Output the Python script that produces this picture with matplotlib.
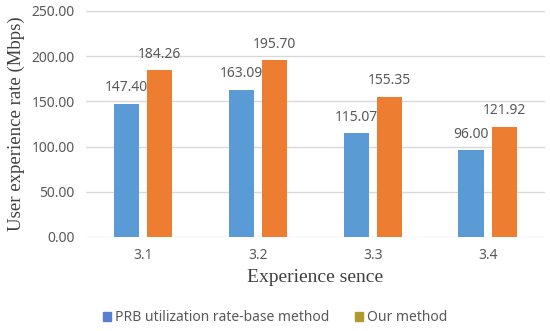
import matplotlib.pyplot as plt
import numpy as np
from matplotlib.patches import Patch

# data
scenes = ['3.1', '3.2', '3.3', '3.4']
prb_rate = [147.40, 163.09, 115.07, 96.00]
our_rate = [184.26, 195.70, 155.35, 121.92]
y_ticks = [0, 50, 100, 150, 200, 250]

blue = '#5B9BD5'
orange = '#ED7D31'
gray = '#595959'

plt.rcParams['font.family'] = ['Noto Sans', 'DejaVu Sans']

fig = plt.figure(figsize=(5.5, 3.31), dpi=100)
ax = fig.add_axes([0.156, 0.284, 0.835, 0.683])

x = np.arange(len(scenes))
width = 0.22
off = 0.145

b1 = ax.bar(x - off, prb_rate, width=width, color=blue, zorder=3)
b2 = ax.bar(x + off, our_rate, width=width, color=orange, zorder=3)

for rects, vals in [(b1, prb_rate), (b2, our_rate)]:
    for r, v in zip(rects, vals):
        ax.annotate(f'{v:.2f}', (r.get_x() + r.get_width() / 2, v),
                    xytext=(0, 6), textcoords='offset points',
                    ha='center', va='bottom', fontsize=10, color=gray)

ax.set_xlim(-0.5, len(scenes) - 0.5)
ax.set_ylim(0, 250)
ax.set_yticks(y_ticks)
ax.set_yticklabels([f'{t:.2f}' for t in y_ticks])
ax.set_xticks(x)
ax.set_xticklabels(scenes)
ax.tick_params(length=0, labelsize=10, labelcolor=gray, pad=8)
ax.grid(axis='y', color='#D9D9D9', linewidth=1, zorder=0)
for s in ax.spines.values():
    s.set_visible(False)

ax.set_ylabel('User experience rate (Mbps)', family='Liberation Serif',
              fontsize=13.5, color='#404040', labelpad=5)
ax.set_xlabel('Experience sence', family='Liberation Serif',
              fontsize=14, color='#404040', labelpad=4)

handles = [Patch(color='#5B7FD0'), Patch(color='#B09A30')]
fig.legend(handles, ['PRB utilization rate-base method', 'Our method'],
           loc='center', bbox_to_anchor=(0.5, 0.04), ncol=2, frameon=False,
           fontsize=10, labelcolor=gray, handlelength=0.6, handleheight=0.6,
           handletextpad=0.3, columnspacing=1.8)

fig.savefig('out.png', dpi=100)
